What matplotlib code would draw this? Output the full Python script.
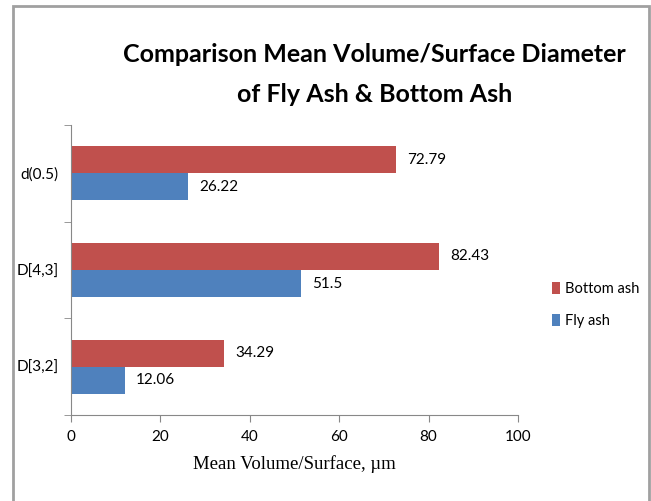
import matplotlib.pyplot as plt
from matplotlib.patches import Rectangle
import numpy as np

# dados de diâmetro médio (µm)
categorias = ['D[3,2]', 'D[4,3]', 'd(0.5)']
fly_ash = [12.06, 51.5, 26.22]
bottom_ash = [34.29, 82.43, 72.79]
rotulos_fly = ['12.06', '51.5', '26.22']
rotulos_bottom = ['34.29', '82.43', '72.79']

Cor_fly = '#4f81bd'
Cor_bottom = '#c0504d'
fonte = ['Lato', 'DejaVu Sans']

fig = plt.figure(figsize=(6.51, 5.01), dpi=100)
ax = fig.add_axes([71/651, 86/501, 447/651, 290/501])

y = np.arange(len(categorias))
h = 0.28
ax.barh(y - h/2, fly_ash, height=h, color=Cor_fly, label='Fly ash')
ax.barh(y + h/2, bottom_ash, height=h, color=Cor_bottom, label='Bottom ash')

for i in range(len(categorias)):
    ax.text(fly_ash[i] + 2.5, y[i] - h/2, rotulos_fly[i], va='center', ha='left',
            fontsize=11, family=fonte)
    ax.text(bottom_ash[i] + 2.5, y[i] + h/2, rotulos_bottom[i], va='center', ha='left',
            fontsize=11, family=fonte)

ax.set_xlim(0, 100)
ax.set_ylim(-0.5, 2.5)
ax.set_xticks([0, 20, 40, 60, 80, 100])
ax.set_yticks(y)
ax.set_yticklabels(categorias)
ax.set_yticks([-0.5, 0.5, 1.5, 2.5], minor=True)
ax.tick_params(axis='y', which='major', length=0, pad=9)
ax.tick_params(axis='y', which='minor', length=5, direction='out', color='#888888')
ax.tick_params(axis='x', length=5, direction='out', color='#888888', pad=6)
for lab in ax.get_xticklabels() + ax.get_yticklabels():
    lab.set_family(fonte)
    lab.set_fontsize(11)

for s in ['top', 'right']:
    ax.spines[s].set_visible(False)
for s in ['left', 'bottom']:
    ax.spines[s].set_color('#888888')

ax.set_xlabel('Mean Volume/Surface, µm', family='Liberation Serif', fontsize=13.5, labelpad=8)

# legenda na ordem Bottom ash / Fly ash
handles, labels = ax.get_legend_handles_labels()
leg = fig.legend(handles[::-1], labels[::-1], loc='center left', bbox_to_anchor=(539/651, 1 - 305/501),
                 frameon=False, handlelength=0.55, handleheight=0.9, handletextpad=0.3,
                 labelspacing=1.2, prop={'family': fonte, 'size': 10.5})

fig.text(374/651, 1 - 55/501, 'Comparison Mean Volume/Surface Diameter', ha='center', va='center',
         fontsize=18, fontweight='bold', family=fonte)
fig.text(375/651, 1 - 95/501, 'of Fly Ash & Bottom Ash', ha='center', va='center',
         fontsize=18, fontweight='bold', family=fonte)

# moldura externa
fig.patches.append(Rectangle((13/651, -0.05), 636/651, 1.05 - 6/501, transform=fig.transFigure,
                             fill=False, edgecolor='#a0a0a0', linewidth=2))

fig.savefig('out.png', dpi=100)
